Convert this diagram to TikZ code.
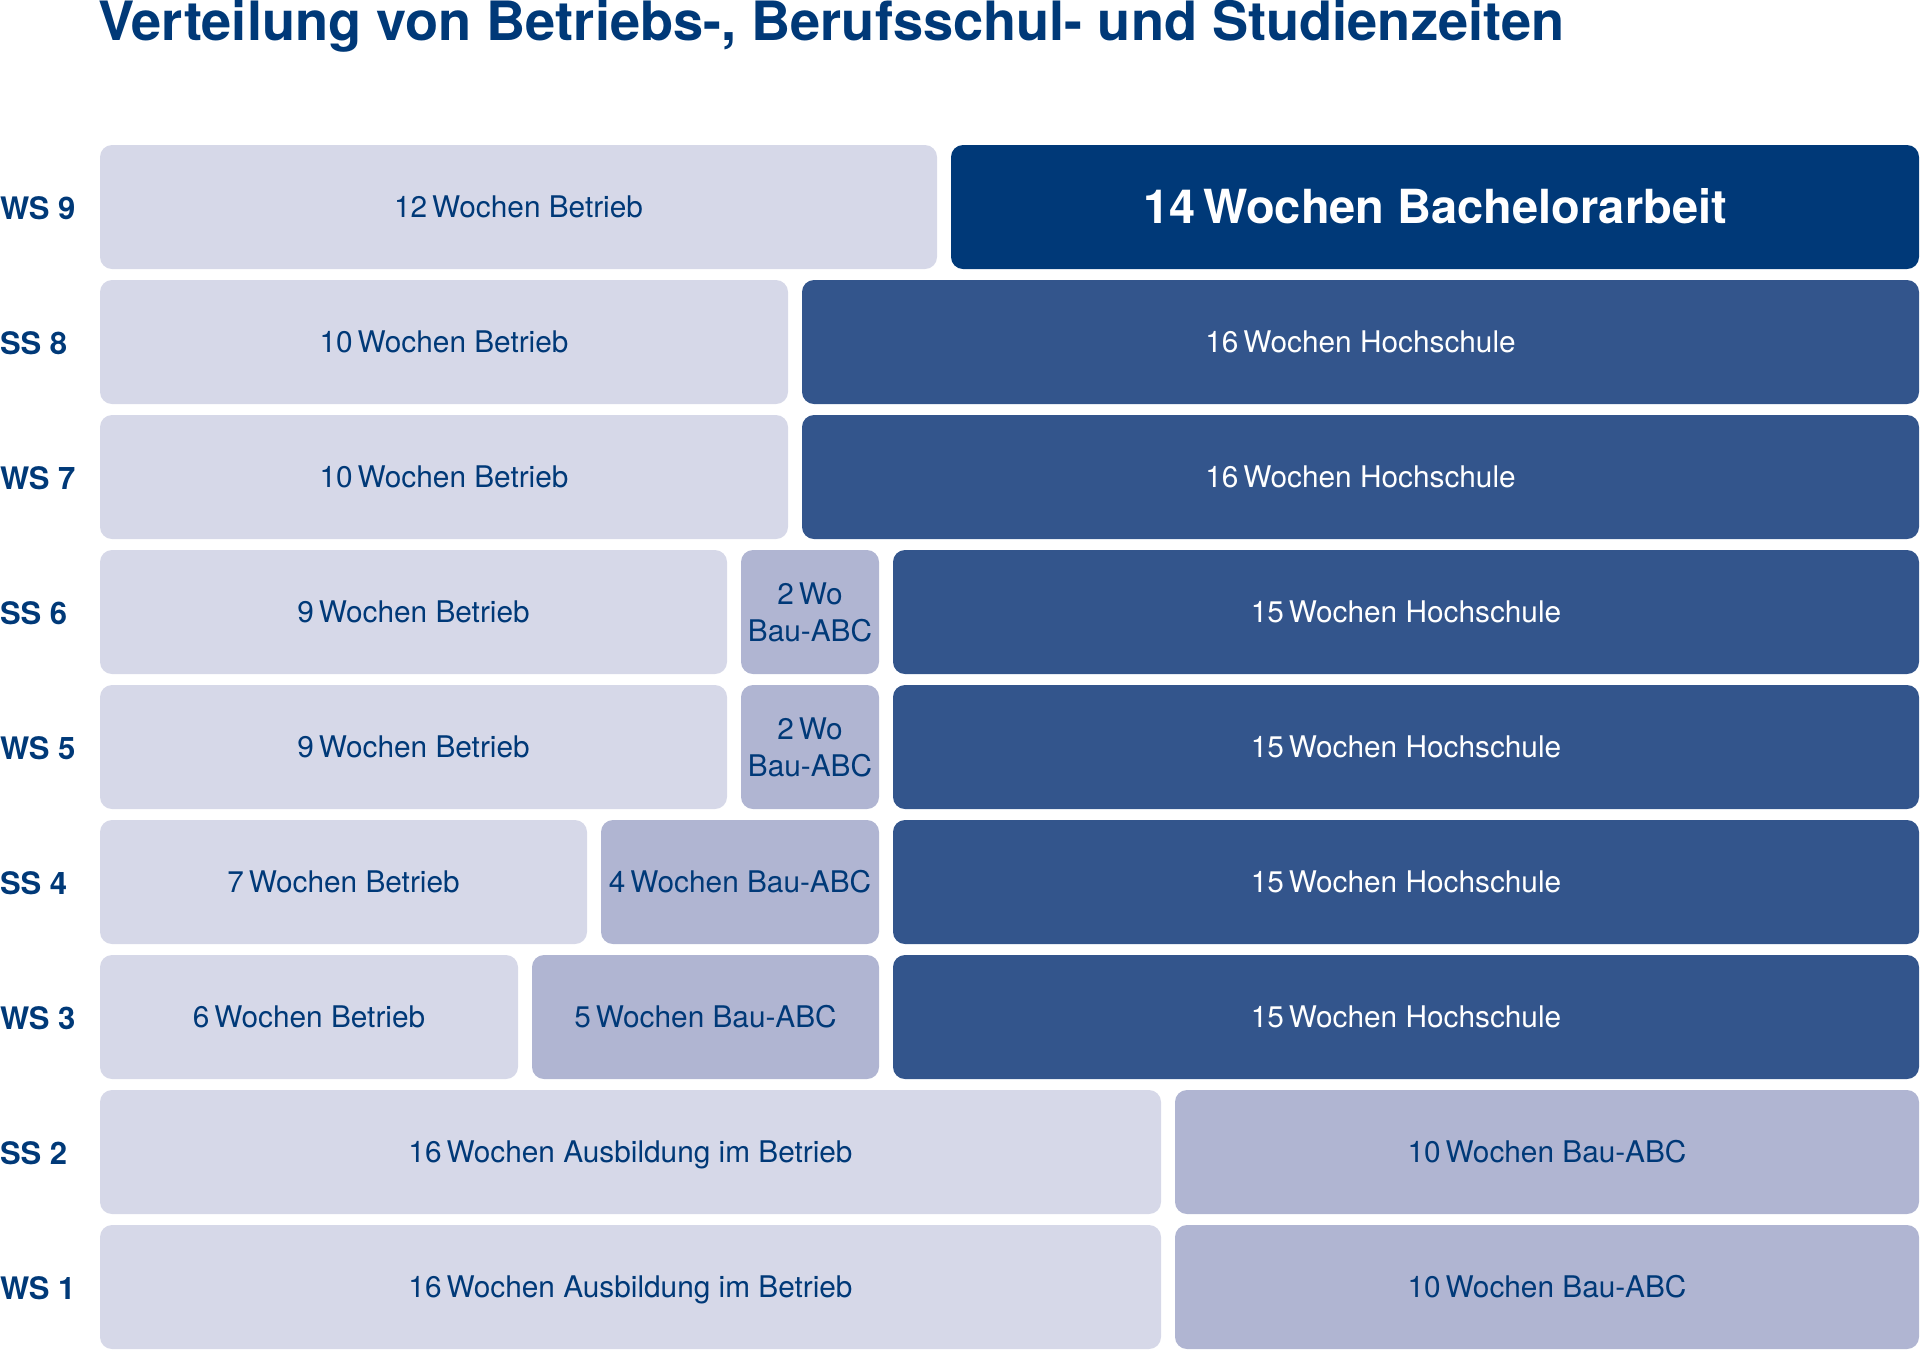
\documentclass[tikz,border=0pt]{standalone}
\usepackage{fontspec}
\setmainfont{TeX Gyre Heros}
\usepackage{tikz}
\usetikzlibrary{positioning}

\definecolor{hellblau}{HTML}{D6D8E8}
\definecolor{mittelblau}{HTML}{B0B5D2}
\definecolor{hsblau}{HTML}{33558C}
\definecolor{dunkelblau}{HTML}{003978}

\begin{document}
\begin{tikzpicture}[x=0.5pt, y=-0.5pt, node distance=5.5pt and 7pt,
		every node/.style={inner sep=0pt, outer sep=0pt},
		betrieb/.style={fill=hellblau, rounded corners=6pt, minimum height=62pt, align=center, text height=10.7pt, text depth=0pt, text=dunkelblau, font=\fontsize{14.9}{18.5}\selectfont},
		bauabc/.style={betrieb, fill=mittelblau},
		hochschule/.style={betrieb, fill=hsblau, text=white},
		bachelor/.style={betrieb, fill=dunkelblau, text=white, text height=16.9pt, text depth=0pt, font=\fontsize{23.5}{26}\selectfont\bfseries},
		semester/.style={anchor=west, text=dunkelblau, text height=11.2pt, text depth=0pt, font=\fontsize{15.5}{18}\selectfont\bfseries}]
			\useasboundingbox (0,0) rectangle (1920,1350);
			
			\node[anchor=base west, text=dunkelblau, font=\fontsize{27.1}{30}\selectfont\bfseries] (titel) at (98,40) {Verteilung von Betriebs-, Berufsschul- und Studienzeiten};
			
			% WS 9
			\node[semester] (s9) at (0,208) {WS 9};
			\node[betrieb, minimum width=418.5pt, anchor=west] (b9) at (100,207) {12\,Wochen Betrieb};
			\node[bachelor, minimum width=484pt, right=of b9] (ba9) {14\,Wochen Bachelorarbeit};
			
			% SS 8
			\node[semester] (s8) at (0,343) {SS 8};
			\node[betrieb, minimum width=344pt, anchor=west] (b8) at (100,342) {10\,Wochen Betrieb};
			\node[hochschule, minimum width=558.5pt, right=of b8] (h8) {16\,Wochen Hochschule};
			
			% WS 7
			\node[semester] (s7) at (0,478) {WS 7};
			\node[betrieb, minimum width=344pt, anchor=west] (b7) at (100,477) {10\,Wochen Betrieb};
			\node[hochschule, minimum width=558.5pt, right=of b7] (h7) {16\,Wochen Hochschule};
			
			% SS 6
			\node[semester] (s6) at (0,613) {SS 6};
			\node[betrieb, minimum width=313.5pt, anchor=west] (b6) at (100,612) {9\,Wochen Betrieb};
			\node[bauabc, minimum width=69pt, text height={}, text depth={}, right=of b6] (a6) {2\,Wo\\Bau-ABC};
			\node[hochschule, minimum width=513pt, right=of a6] (h6) {15\,Wochen Hochschule};
			
			% WS 5
			\node[semester] (s5) at (0,748) {WS 5};
			\node[betrieb, minimum width=313.5pt, anchor=west] (b5) at (100,747) {9\,Wochen Betrieb};
			\node[bauabc, minimum width=69pt, text height={}, text depth={}, right=of b5] (a5) {2\,Wo\\Bau-ABC};
			\node[hochschule, minimum width=513pt, right=of a5] (h5) {15\,Wochen Hochschule};
			
			% SS 4
			\node[semester] (s4) at (0,883) {SS 4};
			\node[betrieb, minimum width=243.5pt, anchor=west] (b4) at (100,882) {7\,Wochen Betrieb};
			\node[bauabc, minimum width=139pt, right=of b4] (a4) {4\,Wochen Bau-ABC};
			\node[hochschule, minimum width=513pt, right=of a4] (h4) {15\,Wochen Hochschule};
			
			% WS 3
			\node[semester] (s3) at (0,1018) {WS 3};
			\node[betrieb, minimum width=209pt, anchor=west] (b3) at (100,1017) {6\,Wochen Betrieb};
			\node[bauabc, minimum width=173.5pt, right=of b3] (a3) {5\,Wochen Bau-ABC};
			\node[hochschule, minimum width=513pt, right=of a3] (h3) {15\,Wochen Hochschule};
			
			% SS 2
			\node[semester] (s2) at (0,1153) {SS 2};
			\node[betrieb, minimum width=530.5pt, anchor=west] (b2) at (100,1152) {16\,Wochen Ausbildung im Betrieb};
			\node[bauabc, minimum width=372pt, right=of b2] (a2) {10\,Wochen Bau-ABC};
			
			% WS 1
			\node[semester] (s1) at (0,1288) {WS 1};
			\node[betrieb, minimum width=530.5pt, anchor=west] (b1) at (100,1287) {16\,Wochen Ausbildung im Betrieb};
			\node[bauabc, minimum width=372pt, right=of b1] (a1) {10\,Wochen Bau-ABC};
		\end{tikzpicture}
\end{document}
